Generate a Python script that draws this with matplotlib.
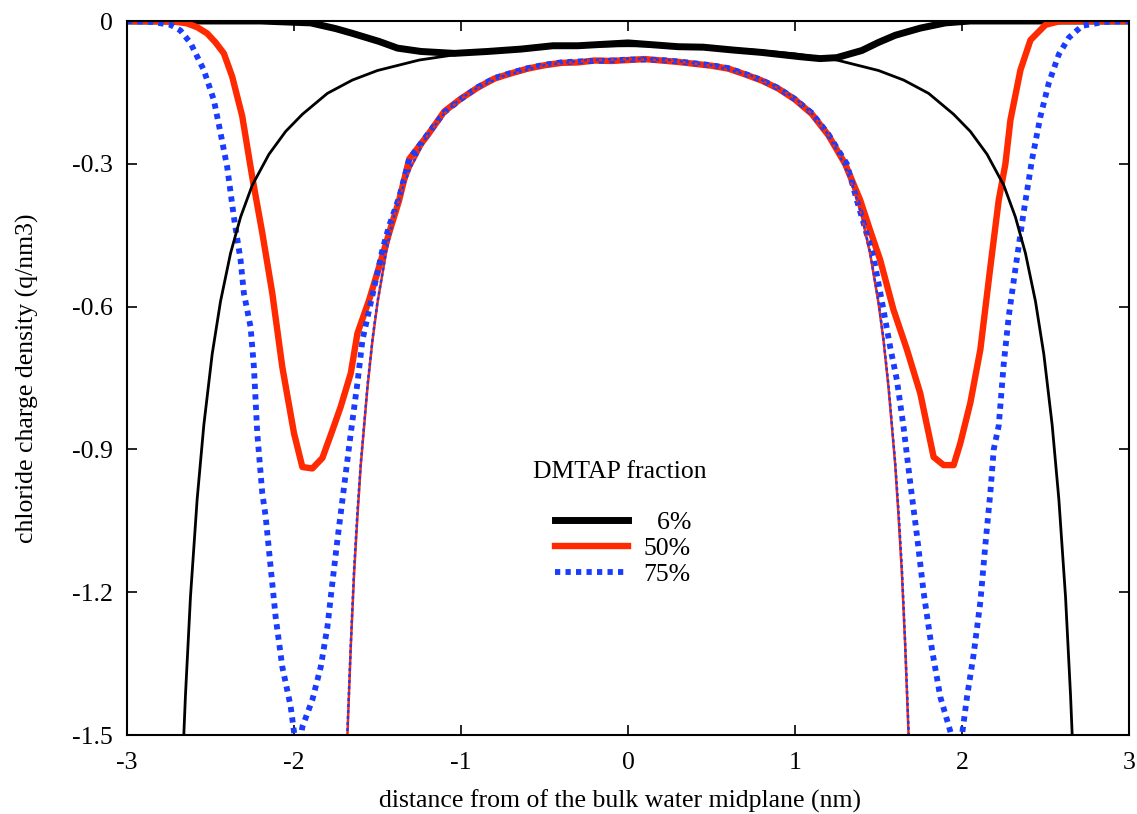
import matplotlib
matplotlib.use("Agg")
import matplotlib.pyplot as plt
from matplotlib.lines import Line2D

# ---- data ----
# 6% DMTAP, simulation (thick black)
x6_sim = [-3.0, -2.5, -2.2, -2.05, -1.9, -1.75, -1.65, -1.49, -1.38, -1.24, -1.04, -0.84, -0.64,
          -0.45, -0.3, -0.15, 0.0, 0.15, 0.3, 0.45, 0.63, 0.8, 1.03, 1.15, 1.25, 1.4, 1.5,
          1.6, 1.75, 1.9, 2.05, 2.5, 3.0]
y6_sim = [0.0, 0.0, 0.0, -0.002, -0.004, -0.016, -0.026, -0.043, -0.057, -0.064, -0.068, -0.064,
          -0.059, -0.052, -0.052, -0.049, -0.046, -0.050, -0.054, -0.055, -0.061, -0.066, -0.075,
          -0.079, -0.077, -0.062, -0.045, -0.030, -0.015, -0.004, 0.0, 0.0, 0.0]
# 6% DMTAP, theory (thin black)
x6_th = [-2.68, -2.65, -2.62, -2.58, -2.54, -2.49, -2.44, -2.38, -2.32, -2.25, -2.15, -2.05,
         -1.95, -1.8, -1.65, -1.5, -1.25, -1.0, -0.75, -0.5, -0.25, 0.0, 0.25, 0.5, 0.75, 1.0,
         1.25, 1.5, 1.65, 1.8, 1.95, 2.05, 2.15, 2.25, 2.32, 2.38, 2.44, 2.49, 2.54, 2.58,
         2.62, 2.65, 2.68]
y6_th = [-1.67, -1.417, -1.21, -1.005, -0.849, -0.700, -0.589, -0.488, -0.412, -0.345, -0.280,
         -0.232, -0.196, -0.152, -0.124, -0.104, -0.082, -0.069, -0.061, -0.056, -0.053, -0.052,
         -0.053, -0.056, -0.061, -0.069, -0.082, -0.104, -0.124, -0.152, -0.196, -0.232,
         -0.280, -0.345, -0.412, -0.488, -0.589, -0.700, -0.849, -1.005, -1.21, -1.417, -1.67]

# 50% DMTAP, simulation (thick red)
x50_sim = [-3.0, -2.8, -2.7, -2.64, -2.58, -2.52, -2.47, -2.42, -2.37, -2.31, -2.25, -2.19, -2.13,
           -2.07, -2.0, -1.95, -1.89, -1.83, -1.77, -1.72, -1.66, -1.62, -1.55, -1.49, -1.43,
           -1.37, -1.31, -1.2, -1.1, -1.0, -0.9, -0.8, -0.7, -0.6, -0.5, -0.4, -0.3, -0.2, -0.1,
           0.0, 0.1, 0.2, 0.3, 0.4, 0.5, 0.6, 0.7, 0.8, 0.9, 1.0, 1.1, 1.2, 1.3, 1.39, 1.45,
           1.51, 1.59, 1.67, 1.75, 1.83, 1.89, 1.95, 1.99, 2.05, 2.11, 2.17, 2.22, 2.26, 2.29,
           2.35, 2.41, 2.5, 2.59, 2.8, 3.0]
y50_sim = [0.0, 0.0, -0.002, -0.005, -0.013, -0.026, -0.045, -0.068, -0.117, -0.200, -0.328,
           -0.445, -0.572, -0.727, -0.866, -0.937, -0.940, -0.918, -0.860, -0.810, -0.740,
           -0.656, -0.586, -0.516, -0.445, -0.376, -0.290, -0.240, -0.190, -0.163, -0.140,
           -0.121, -0.110, -0.100, -0.093, -0.088, -0.087, -0.083, -0.084, -0.082, -0.080,
           -0.083, -0.086, -0.090, -0.094, -0.100, -0.112, -0.125, -0.142, -0.165, -0.195,
           -0.240, -0.300, -0.376, -0.440, -0.502, -0.607, -0.690, -0.782, -0.916, -0.933,
           -0.933, -0.887, -0.802, -0.690, -0.516, -0.376, -0.300, -0.208, -0.103, -0.040,
           -0.008, 0.0, 0.0, 0.0]
# 50% DMTAP, theory (thin red)
x50_th = [-1.70, -1.68, -1.66, -1.64, -1.62, -1.60, -1.56, -1.53, -1.5, -1.45, -1.4, -1.35, -1.3,
          -1.2, -1.1, -1.0, -0.9, -0.75, -0.5, -0.25, 0.0, 0.25, 0.5, 0.75, 0.9, 1.0, 1.1, 1.2,
          1.3, 1.35, 1.4, 1.45, 1.5, 1.53, 1.56, 1.60, 1.62, 1.64, 1.66, 1.68, 1.70]
y50_th = [-1.71, -1.50, -1.314, -1.16, -1.04, -0.932, -0.770, -0.671, -0.592, -0.489, -0.410,
          -0.352, -0.307, -0.240, -0.195, -0.163, -0.141, -0.117, -0.094, -0.083, -0.080,
          -0.083, -0.094, -0.117, -0.141, -0.163, -0.195, -0.240, -0.307, -0.352, -0.410,
          -0.489, -0.592, -0.671, -0.770, -0.932, -1.04, -1.16, -1.314, -1.50, -1.71]

# 75% DMTAP, simulation (thick blue dotted)
x75_sim = [-3.0, -2.85, -2.74, -2.68, -2.62, -2.54, -2.48, -2.44, -2.40, -2.36, -2.32, -2.30,
           -2.26, -2.24, -2.22, -2.19, -2.17, -2.14, -2.11, -2.07, -2.02, -1.99, -1.97, -1.95,
           -1.89, -1.84, -1.80, -1.77, -1.74, -1.71, -1.66, -1.62, -1.59, -1.55, -1.51, -1.47,
           -1.43, -1.37, -1.31, -1.2, -1.1, -1.0, -0.9, -0.8, -0.7, -0.6, -0.5, -0.4, -0.3,
           -0.2, -0.1, 0.0, 0.1, 0.2, 0.3, 0.4, 0.5, 0.6, 0.7, 0.8, 0.9, 1.0, 1.1, 1.2, 1.31,
           1.37, 1.47, 1.53, 1.57, 1.61, 1.65, 1.69, 1.73, 1.77, 1.82, 1.87, 1.92, 1.96, 2.00,
           2.03, 2.07, 2.11, 2.14, 2.17, 2.19, 2.22, 2.25, 2.28, 2.32, 2.37, 2.42, 2.47, 2.52,
           2.58, 2.64, 2.72, 2.85, 3.0]
y75_sim = [0.0, -0.002, -0.008, -0.020, -0.046, -0.103, -0.166, -0.235, -0.307, -0.412, -0.502,
           -0.572, -0.643, -0.727, -0.866, -0.992, -1.040, -1.147, -1.252, -1.357, -1.440,
           -1.520, -1.530, -1.483, -1.426, -1.357, -1.273, -1.180, -1.090, -1.006, -0.866,
           -0.760, -0.670, -0.607, -0.544, -0.480, -0.430, -0.370, -0.290, -0.238, -0.192,
           -0.164, -0.139, -0.120, -0.109, -0.099, -0.092, -0.087, -0.085, -0.084, -0.083,
           -0.081, -0.081, -0.082, -0.085, -0.089, -0.093, -0.099, -0.111, -0.124, -0.141,
           -0.164, -0.193, -0.238, -0.300, -0.376, -0.496, -0.607, -0.685, -0.754, -0.853,
           -0.970, -1.080, -1.200, -1.320, -1.420, -1.480, -1.530, -1.500, -1.420, -1.330,
           -1.220, -1.100, -0.990, -0.900, -0.850, -0.720, -0.620, -0.520, -0.400, -0.290,
           -0.200, -0.130, -0.070, -0.035, -0.010, -0.002, 0.0]
# 75% DMTAP, theory (thin blue dotted)
x75_th = [-1.70, -1.68, -1.66, -1.64, -1.62, -1.60, -1.56, -1.53, -1.5, -1.45, -1.4, -1.35, -1.3,
          -1.2, -1.1, -1.0, -0.9, -0.75, -0.5, -0.25, 0.0, 0.25, 0.5, 0.75, 0.9, 1.0, 1.1, 1.2,
          1.3, 1.35, 1.4, 1.45, 1.5, 1.53, 1.56, 1.60, 1.62, 1.64, 1.66, 1.68, 1.70]
y75_th = [-1.70, -1.49, -1.31, -1.15, -1.03, -0.928, -0.766, -0.668, -0.590, -0.487, -0.409,
          -0.351, -0.306, -0.239, -0.194, -0.162, -0.140, -0.116, -0.093, -0.082, -0.079,
          -0.082, -0.093, -0.116, -0.140, -0.162, -0.194, -0.239, -0.306, -0.351, -0.409,
          -0.487, -0.590, -0.668, -0.766, -0.928, -1.03, -1.15, -1.31, -1.49, -1.70]

legend_labels = ["  6%", "50%", "75%"]
xticks = [-3, -2, -1, 0, 1, 2, 3]
yticks = [0, -0.3, -0.6, -0.9, -1.2, -1.5]
ytick_labels = ["0", "-0.3", "-0.6", "-0.9", "-1.2", "-1.5"]

BLACK = "#000000"
RED = "#ff2a00"
BLUE = "#1a3cff"
FS = 18.5

plt.rcParams["font.family"] = ["Liberation Serif", "DejaVu Serif"]
fig = plt.figure(figsize=(11.37, 8.14), dpi=100)
ax = fig.add_axes([127 / 1137, 1 - 735 / 814, (1129 - 127) / 1137, (735 - 21) / 814])

dot = (0, (0.9, 0.9))
ax.plot(x6_sim, y6_sim, color=BLACK, lw=5.0, solid_joinstyle="round")
ax.plot(x50_sim, y50_sim, color=RED, lw=4.6, solid_joinstyle="round")
ax.plot(x75_sim, y75_sim, color=BLUE, lw=4.2, linestyle=dot)
ax.plot(x6_th, y6_th, color=BLACK, lw=2.0)
ax.plot(x50_th, y50_th, color=RED, lw=1.8)
ax.plot(x75_th, y75_th, color=BLUE, lw=1.8, linestyle=(0, (1.2, 1.2)))

ax.set_xlim(-3, 3)
ax.set_ylim(-1.5, 0)
ax.set_xticks(xticks)
ax.set_xticklabels([str(t) for t in xticks])
ax.set_yticks(yticks)
ax.set_yticklabels(ytick_labels)
ax.tick_params(direction="in", length=7, width=1.2, top=True, right=True,
               labelsize=FS)
ax.tick_params(axis="x", pad=12)
ax.tick_params(axis="y", pad=10)
for s in ax.spines.values():
    s.set_linewidth(1.5)

ax.set_xlabel("distance from of the bulk water midplane (nm)", fontsize=FS, labelpad=10)
ax.xaxis.set_label_coords((620 - 127) / 1002, -0.076)
ax.set_ylabel("chloride charge density (q/nm3)", fontsize=FS, labelpad=24)

ax.text(0.492, (735 - 472) / 714, "DMTAP fraction", transform=ax.transAxes,
        ha="center", va="center", fontsize=FS)
handles = [Line2D([], [], color=BLACK, lw=5.0),
           Line2D([], [], color=RED, lw=4.6),
           Line2D([], [], color=BLUE, lw=4.2, linestyle=dot)]
leg = ax.legend(handles, legend_labels, loc="upper left",
                bbox_to_anchor=((555 - 127) / 1002, (735 - 511) / 714),
                frameon=False, fontsize=FS, handlelength=2.85, handletextpad=0.6,
                labelspacing=0.12, borderpad=0, borderaxespad=0)

fig.savefig("out.png", dpi=100)
